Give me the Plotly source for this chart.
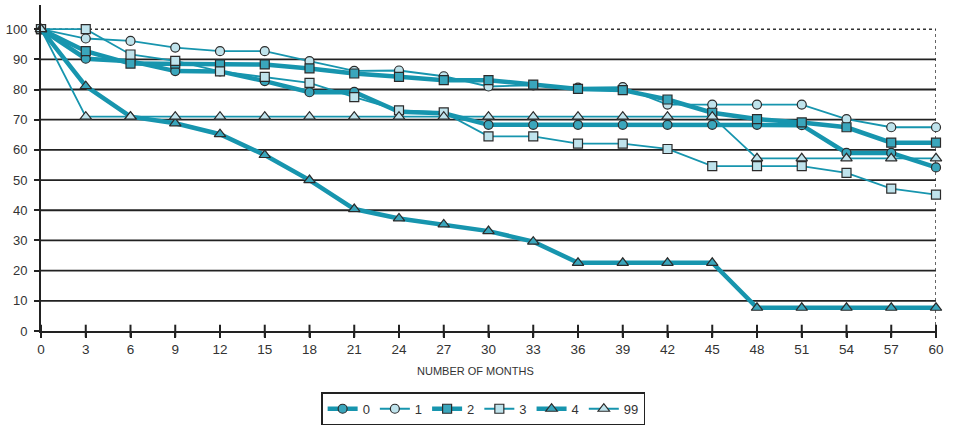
import plotly.graph_objects as go

# Months on the x axis
months = [0, 3, 6, 9, 12, 15, 18, 21, 24, 27, 30, 33, 36, 39, 42, 45, 48, 51, 54, 57, 60]

# Percent remaining per group
s0 = [100, 90.2, 89.4, 86.1, 86.0, 82.8, 79.1, 79.2, 72.6, 72.1, 68.3, 68.3, 68.3, 68.3, 68.3, 68.3, 68.3, 68.2, 59.0, 59.0, 54.2]
s1 = [100, 96.9, 96.1, 93.9, 92.7, 92.7, 89.4, 86.2, 86.3, 84.4, 81.0, 81.4, 80.6, 80.8, 75.0, 75.0, 75.0, 75.0, 70.2, 67.5, 67.5]
s2 = [100, 92.7, 88.6, 88.6, 88.3, 88.3, 87.0, 85.3, 84.2, 83.1, 83.1, 81.6, 80.2, 79.8, 76.7, 72.3, 70.2, 69.1, 67.5, 62.4, 62.4]
s3 = [100, 100, 91.6, 89.5, 86.0, 84.2, 82.2, 77.5, 73.1, 72.4, 64.5, 64.5, 62.1, 62.1, 60.3, 54.6, 54.6, 54.6, 52.4, 47.2, 45.2]
s4 = [100, 81.1, 71.0, 68.8, 65.2, 58.3, 50.0, 40.4, 37.3, 35.3, 33.1, 29.6, 22.6, 22.6, 22.6, 22.6, 7.7, 7.7, 7.7, 7.7, 7.7]
s99 = [100, 71, 71, 71, 71, 71, 71, 71, 71, 71, 71, 71, 71, 71, 71, 71, 57.2, 57.2, 57.2, 57.2, 57.2]

names = ["0", "1", "2", "3", "4", "99"]
values = [s0, s1, s2, s3, s4, s99]
symbols = ["circle", "circle", "square", "square", "triangle-up", "triangle-up"]
thick = [True, False, True, False, True, False]

y_ticks = [0, 10, 20, 30, 40, 50, 60, 70, 80, 90, 100]

LINE = "#1795ae"
DARK_FILL = "#3aa6bc"
LIGHT_FILL = "#bfe3ec"
EDGE = "#2b2b2b"
FONT = "Liberation Sans, Arial, sans-serif"

fig = go.Figure()

for name, ys, sym, heavy in zip(names, values, symbols, thick):
    fig.add_trace(go.Scatter(
        x=months, y=ys, name=name, mode="lines+markers",
        line=dict(color=LINE, width=4.5 if heavy else 1.8),
        marker=dict(symbol=sym, size=10 if sym.startswith("tri") else 9,
                    color=DARK_FILL if heavy else LIGHT_FILL,
                    line=dict(color=EDGE, width=1.2)),
        cliponaxis=False,
    ))

# Cross ticks straddling the x axis
fig.add_trace(go.Scatter(
    x=months, y=[0] * len(months), mode="markers", showlegend=False,
    hoverinfo="skip", cliponaxis=False,
    marker=dict(symbol="line-ns", size=9, line=dict(color="#222", width=2)),
))

shapes = []
# Solid horizontal grid lines between the axis and the top
for v in y_ticks[1:-1]:
    shapes.append(dict(type="line", xref="x", yref="y", x0=0, x1=60, y0=v, y1=v,
                       line=dict(color="#222", width=1.8), layer="below"))
# Dotted frame at the top and right edges
shapes.append(dict(type="line", xref="x", yref="y", x0=0, x1=60, y0=100, y1=100,
                   line=dict(color="#333", width=1.5, dash="dot"), layer="below"))
shapes.append(dict(type="line", xref="x", yref="y", x0=60, x1=60, y0=0, y1=100,
                   line=dict(color="#333", width=1.5, dash="dot"), layer="below"))

fig.update_layout(
    width=961, height=426,
    margin=dict(l=41, r=25, t=5, b=95, autoexpand=False),
    paper_bgcolor="white", plot_bgcolor="white",
    font=dict(family=FONT, size=13, color="#333"),
    shapes=shapes,
    showlegend=True,
    legend=dict(orientation="h", x=0.494, xanchor="center", y=-0.188, yanchor="top",
                bordercolor="#222", borderwidth=1.5, bgcolor="white",
                font=dict(size=13, color="#333"), itemwidth=30,
                tracegroupgap=0),
    xaxis=dict(range=[0, 60], tickvals=months, ticks="outside", ticklen=5,
               tickwidth=2, tickcolor="#222", showgrid=False, zeroline=False,
               showline=True, linecolor="#222", linewidth=2,
               tickfont=dict(size=13.5, color="#333"), automargin=False),
    yaxis=dict(range=[0, 108], tickvals=y_ticks, ticks="outside", ticklen=5,
               tickwidth=1.8, tickcolor="#222", showgrid=False, zeroline=False,
               showline=True, linecolor="#222", linewidth=2,
               tickfont=dict(size=13, color="#333"), automargin=False,
               ticklabelstandoff=4),
    annotations=[dict(text="NUMBER OF MONTHS", xref="paper", yref="paper",
                      x=0.486, y=-0.123, xanchor="center", yanchor="middle",
                      showarrow=False, font=dict(size=11, color="#333"))],
)

fig.write_html("out.html")
